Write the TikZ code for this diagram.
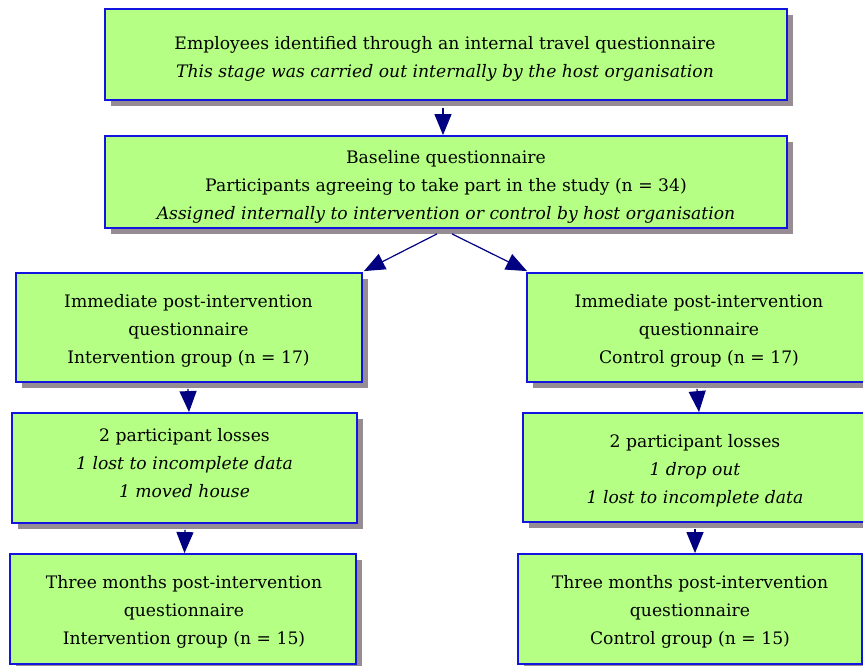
\documentclass[tikz,border=0pt]{standalone}
\usepackage{fontspec}
\setmainfont{DejaVu Serif}
\usetikzlibrary{arrows.meta,shadows,calc}
\definecolor{boxfill}{RGB}{182,255,133}
\definecolor{boxline}{RGB}{20,20,225}
\definecolor{shadowgrey}{RGB}{150,140,148}
\definecolor{arrowblue}{RGB}{0,0,128}
\tikzset{
  stagebox/.style={draw=boxline, line width=1.8pt, fill=boxfill, rectangle,
    inner sep=0pt,
    drop shadow={shadow xshift=6pt, shadow yshift=-6pt, fill=shadowgrey, opacity=1}},
  stagetext/.style={align=center, inner sep=0pt, text=black,
    font=\fontsize{17.2}{28}\selectfont},
  flow/.style={draw=arrowblue, line width=1.2pt,
    -{Triangle[length=21pt,width=17pt]}, arrowblue},
}
\begin{document}
\begin{tikzpicture}[x=1pt,y=-1pt]
\useasboundingbox (0,0) rectangle (863,666);
\clip (0,0) rectangle (863,666);

% boxes
\node[stagebox, minimum width=682, minimum height=91]  (b1) at (446,54.5) {};
\node[stagebox, minimum width=682, minimum height=92]  (b2) at (446,182) {};
\node[stagebox, minimum width=346, minimum height=109] (b3) at (189,327.5) {};
\node[stagebox, minimum width=344, minimum height=109] (b4) at (699,327.5) {};
\node[stagebox, minimum width=345, minimum height=110] (b5) at (184.5,468) {};
\node[stagebox, minimum width=344, minimum height=109] (b6) at (695,467.5) {};
\node[stagebox, minimum width=346, minimum height=110] (b7) at (183,609) {};
\node[stagebox, minimum width=344, minimum height=110] (b8) at (690,609) {};

% texts
\node[stagetext] (t1) at (445,59) {Employees identified through an internal travel questionnaire\\
  \textit{This stage was carried out internally by the host organisation}};
\node[stagetext] (t2) at (446,187) {Baseline questionnaire\\
  Participants agreeing to take part in the study (n = 34)\\
  \textit{Assigned internally to intervention or control by host organisation}};
\node[stagetext] (t3) at (188.5,331) {Immediate post-intervention\\questionnaire\\Intervention group (n = 17)};
\node[stagetext] (t4) at (699,331) {Immediate post-intervention\\questionnaire\\Control group (n = 17)};
\node[stagetext] (t5) at (184.5,463) {2 participant losses\\
  \textit{1 lost to incomplete data}\\\textit{1 moved house}};
\node[stagetext] (t6) at (695,471) {2 participant losses\\
  \textit{1 drop out}\\\textit{1 lost to incomplete data}};
\node[stagetext] (t7) at (184,611.5) {Three months post-intervention\\questionnaire\\Intervention group (n = 15)};
\node[stagetext] (t8) at (690,611.5) {Three months post-intervention\\questionnaire\\Control group (n = 15)};

% connectors
\draw[flow] ($(b1.south)+(-3,7)$) -- ($(b2.north)+(-3,0)$);
\draw[flow] ($(b2.south)+(-9,5)$) -- ($(b3.north east)+(1,-1)$);
\draw[flow] ($(b2.south)+(6,5)$) -- ($(b4.north west)+(1,-1)$);
\draw[flow] ($(b3.south)+(-1,6)$) -- (b3.south |- b5.north);
\draw[flow] ($(b4.south)+(-2,6)$) -- (b4.south |- b6.north);
\draw[flow] ($(b5.south)+(0.5,6)$) -- (b5.south |- b7.north);
\draw[flow] ($(b6.south)+(0,6)$) -- (b6.south |- b8.north);
\end{tikzpicture}
\end{document}
